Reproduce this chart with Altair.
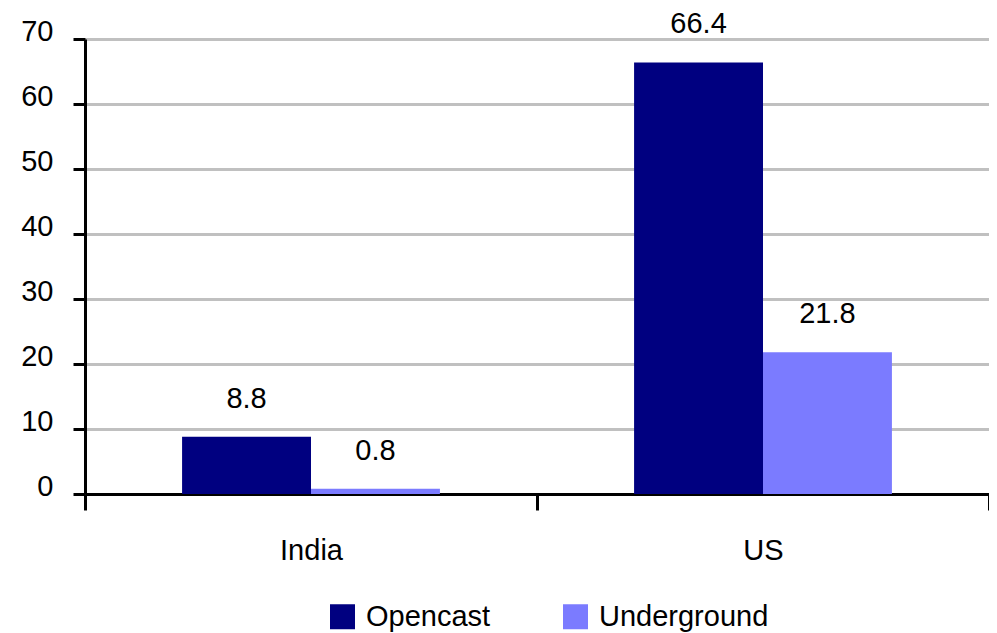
import altair as alt
import pandas as pd

categories = ["India", "US"]
series = ["Opencast", "Underground"]
opencast = [8.8, 66.4]
underground = [0.8, 21.8]
colors = ["#000080", "#7B7BFF"]

rows = []
for i, c in enumerate(categories):
    rows.append({"country": c, "type": series[0], "value": opencast[i]})
    rows.append({"country": c, "type": series[1], "value": underground[i]})
df = pd.DataFrame(rows)

FONT = "Liberation Sans"
FS = 29

x = alt.X(
    "country:N", sort=categories,
    scale=alt.Scale(paddingInner=0, paddingOuter=0),
    axis=alt.Axis(title=None, labelAngle=0, tickBand="extent", tickSize=16, tickWidth=3,
                  tickColor="black", domainColor="black", domainWidth=3,
                  labelFontSize=FS, labelFont=FONT, labelColor="black", labelPadding=26, grid=False),
)
xo = alt.XOffset("type:N", sort=series, scale=alt.Scale(paddingInner=0, paddingOuter=0.753))
y = alt.Y(
    "value:Q",
    scale=alt.Scale(domain=[0, 70], nice=False),
    axis=alt.Axis(title=None, values=list(range(0, 71, 10)), tickSize=12, tickWidth=3,
                  tickColor="black", domainColor="black", domainWidth=3,
                  gridColor="#c0c0c0", gridWidth=3,
                  labelFontSize=FS, labelFont=FONT, labelColor="black", labelPadding=20,
                  labelOffset=-8),
)

color = alt.Color(
    "type:N", sort=series,
    scale=alt.Scale(domain=series, range=colors),
    legend=alt.Legend(orient="none", legendX=243, legendY=563, direction="horizontal", title=None,
                      symbolType="square", symbolSize=625, symbolStrokeWidth=0,
                      labelFontSize=FS, labelFont=FONT, labelColor="black", labelLimit=0,
                      columnPadding=70, labelOffset=9),
)

bars = alt.Chart(df).mark_bar().encode(x=x, xOffset=xo, y=y, color=color)
labels = alt.Chart(df).mark_text(baseline="alphabetic", dy=-29, fontSize=FS, font=FONT, color="black").encode(
    x=alt.X("country:N", sort=categories), xOffset=alt.XOffset("type:N", sort=series),
    y="value:Q", text=alt.Text("value:Q", format=".1f"))

chart = (bars + labels).properties(
    width=904, height=455,
    autosize=alt.AutoSizeParams(type="none"),
    padding={"left": 77, "top": 31, "right": 0, "bottom": 139},
    background="white",
).configure_view(stroke=None)

chart.save("out.html", embed_options={"renderer": "svg", "actions": False})
